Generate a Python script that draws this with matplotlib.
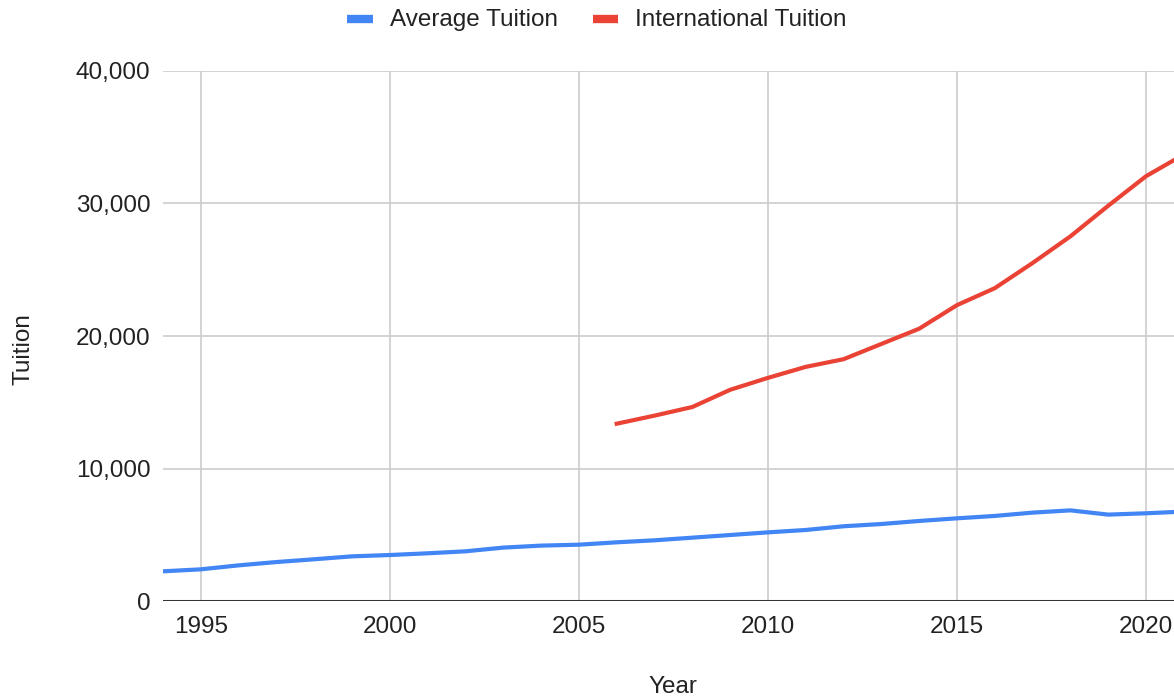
import matplotlib.pyplot as plt
from matplotlib.ticker import FuncFormatter

plt.rcParams['font.family'] = ['Liberation Sans', 'DejaVu Sans']

# data
avg_years = list(range(1994, 2022))
avg_tuition = [2240, 2390, 2690, 2940, 3150, 3370, 3470, 3600, 3750, 4030,
               4180, 4250, 4430, 4580, 4780, 4980, 5180, 5360, 5640, 5810,
               6040, 6240, 6420, 6670, 6840, 6520, 6620, 6750]

intl_years = list(range(2006, 2022))
intl_tuition = [13380, 13990, 14640, 15940, 16840, 17670, 18250, 19400,
                20550, 22330, 23610, 25510, 27520, 29830, 32060, 33700]

FS = 17.5
TXT = '#222222'

fig = plt.figure(figsize=(11.74, 7), dpi=100)
ax = fig.add_axes([163 / 1174, 1 - 601 / 700, 1 - 163 / 1174, (601 - 71) / 700])

ax.plot(avg_years, avg_tuition, color='#4285F4', lw=3, label='Average Tuition', zorder=3)
ax.plot(intl_years, intl_tuition, color='#EA4335', lw=3, label='International Tuition', zorder=3)

ax.set_xlim(1994, 2020.74)
ax.set_ylim(0, 40000)
ax.set_xticks([1995, 2000, 2005, 2010, 2015, 2020])
ax.set_yticks([0, 10000, 20000, 30000, 40000])
ax.yaxis.set_major_formatter(FuncFormatter(lambda v, p: f'{int(v):,}'))

ax.grid(True, color='#cccccc', lw=1.2)
ax.set_axisbelow(True)
for s in ax.spines.values():
    s.set_visible(False)
ax.axhline(0, color='#333333', lw=2.2, zorder=2)

ax.tick_params(length=0, labelsize=FS, colors=TXT)
ax.tick_params(axis='y', pad=9)
ax.tick_params(axis='x', pad=11)

# axis titles, placed where the reference has them
ax.set_xlabel('Year', fontsize=FS, color=TXT)
ax.xaxis.label.set_va('center')
ax.xaxis.set_label_coords((673 - 163) / 1011, (601 - 687) / 530)
ax.set_ylabel('Tuition', fontsize=FS, color=TXT)
ax.yaxis.label.set_va('center')
ax.yaxis.set_label_coords((23 - 163) / 1011, (601 - 349) / 530)

leg = fig.legend(loc='center', bbox_to_anchor=(597 / 1174, 1 - 20 / 700), ncol=2,
                 frameon=False, fontsize=FS, handlelength=1.05, handleheight=0.4,
                 columnspacing=1.45, handletextpad=0.7, labelcolor=TXT)
for h in leg.get_lines():
    h.set_linewidth(6)
    h.set_solid_capstyle('butt')

plt.savefig('out.png', dpi=100)
